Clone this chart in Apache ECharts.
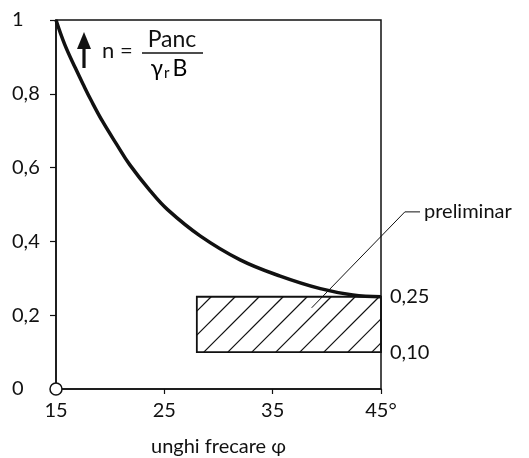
<!DOCTYPE html>
<html><head><meta charset="utf-8">
<script src="https://cdn.jsdelivr.net/npm/echarts@6/dist/echarts.min.js"></script>
<style>html,body{margin:0;padding:0;background:#fff}#c{width:529px;height:458px}</style>
</head><body><div id="c"></div>
<script>
// curve n(phi)
const phi   = [15, 15.8, 16.8, 17.5, 18.3, 19.3, 20.6, 21.8, 23.7, 25.3, 28.3, 32.0, 35.7, 39.4, 42.4, 45];
const nVals = [1.0, 0.934, 0.869, 0.826, 0.779, 0.725, 0.663, 0.608, 0.537, 0.486, 0.415, 0.350, 0.306, 0.272, 0.255, 0.25];
// axis ticks
const xTicks = [15, 25, 35, 45];
const yTicks = [0, 0.2, 0.4, 0.6, 0.8, 1];
// hatched "preliminar" zone
const prelimPhi = [28, 45];
const prelimN = [0.10, 0.25];
const prelimLabels = ['0,25', '0,10'];
// leader line to label
const leaderPhi = [38.6, 47.2, 48.6];
const leaderN = [0.22, 0.48, 0.48];
const leaderText = 'preliminar';
const xName = 'unghi frecare φ';

const FONT = 'Lato, "Open Sans", sans-serif';
const INK = '#111';
const FS = 20;

const chart = echarts.init(document.getElementById('c'), null, {renderer: 'canvas'});
chart.setOption({
  animation: false,
  backgroundColor: '#fff',
  grid: {left: 56, right: 148, top: 20, bottom: 69, outerBoundsMode: 'none', containLabel: false,
    show: true, borderColor: INK, borderWidth: 1.5, backgroundColor: 'transparent'},
  xAxis: {
    type: 'value', min: xTicks[0], max: xTicks[xTicks.length - 1], interval: 10,
    splitLine: {show: false},
    axisLine: {lineStyle: {color: INK, width: 1.5}},
    axisTick: {show: true, length: 5, lineStyle: {color: INK, width: 1.2}},
    axisLabel: {color: INK, fontFamily: FONT, fontSize: FS, margin: 12,
      formatter: v => v === xTicks[xTicks.length - 1] ? v + '°' : String(v)},
    name: xName, nameLocation: 'middle', nameGap: 48,
    nameTextStyle: {color: INK, fontFamily: FONT, fontSize: FS}
  },
  yAxis: {
    type: 'value', min: yTicks[0], max: yTicks[yTicks.length - 1], interval: 0.2,
    splitLine: {show: false},
    axisLine: {show: true, lineStyle: {color: INK, width: 1.5}},
    axisTick: {show: true, length: 6, lineStyle: {color: INK, width: 1.2}},
    axisLabel: {color: INK, fontFamily: FONT, fontSize: FS, margin: 44, align: 'left',
      formatter: v => (Math.abs(v) < 1e-9 ? '0' : Math.abs(v - 1) < 1e-9 ? '1' : v.toFixed(1).replace('.', ','))}
  },
  series: [
    {
      type: 'line', smooth: 0.4, symbol: 'none', clip: false,
      data: phi.map((p, i) => [p, nVals[i]]),
      lineStyle: {color: INK, width: 3.5}, z: 5
    },
    {
      type: 'custom', clip: false, z: 3,
      data: [[prelimPhi[0], prelimN[0], prelimPhi[1], prelimN[1]]],
      renderItem: (params, api) => {
        const p0 = api.coord([api.value(0), api.value(1)]);
        const p1 = api.coord([api.value(2), api.value(3)]);
        const x0 = p0[0], x1 = p1[0], yb = p0[1], yt = p1[1];
        const h = yb - yt, dx = h * 1.0, step = 24;
        const children = [];
        for (let s = x0 + 7 - step * 3; s < x1; s += step) {
          let ax = s, ay = yb, bx = s + dx, by = yt;
          if (bx <= x0) continue;
          if (ax < x0) { ay = yb - (x0 - s) / dx * h; ax = x0; }
          if (bx > x1) { by = yb - (x1 - s) / dx * h; bx = x1; }
          children.push({type: 'line', shape: {x1: ax, y1: ay, x2: bx, y2: by}, style: {stroke: INK, lineWidth: 1.2}});
        }
        children.push({type: 'rect', shape: {x: x0, y: yt, width: x1 - x0, height: h}, style: {fill: 'none', stroke: INK, lineWidth: 1.8}});
        children.push({type: 'text', style: {text: prelimLabels[0], x: x1 + 9, y: yt, verticalAlign: 'middle', fontFamily: FONT, fontSize: FS, fill: INK}});
        children.push({type: 'text', style: {text: prelimLabels[1], x: x1 + 9, y: yb, verticalAlign: 'middle', fontFamily: FONT, fontSize: FS, fill: INK}});
        return {type: 'group', children};
      }
    },
    {
      type: 'custom', clip: false, z: 4,
      data: [[leaderPhi[0], leaderN[0], leaderPhi[1], leaderN[1], leaderPhi[2], leaderN[2]]],
      renderItem: (params, api) => {
        const pts = [0, 1, 2].map(k => api.coord([api.value(2 * k), api.value(2 * k + 1)]));
        return {type: 'group', children: [
          {type: 'polyline', shape: {points: pts}, style: {stroke: INK, lineWidth: 1, fill: 'none'}},
          {type: 'text', style: {text: leaderText, x: pts[2][0] + 4, y: pts[2][1], verticalAlign: 'middle', fontFamily: FONT, fontSize: FS, fill: INK, letterSpacing: 0.8}}
        ]};
      }
    },
    {
      type: 'scatter', clip: false, z: 10,
      data: [[xTicks[0], yTicks[0]]],
      symbol: 'circle', symbolSize: 12,
      itemStyle: {color: '#ffffff', opacity: 1, borderColor: INK, borderWidth: 1.5}
    }
  ],
  graphic: [
    {type: 'line', shape: {x1: 84, y1: 68, x2: 84, y2: 44}, style: {stroke: INK, lineWidth: 3.2}},
    {type: 'polygon', shape: {points: [[84, 32], [77, 49], [91, 49]]}, style: {fill: INK}},
    {type: 'text', style: {text: 'n =', x: 102, y: 51, verticalAlign: 'middle', fontFamily: FONT, fontSize: 22, fill: INK}},
    {type: 'text', style: {text: 'Panc', x: 172, y: 40, align: 'center', verticalAlign: 'middle', fontFamily: FONT, fontSize: 23, fill: INK}},
    {type: 'line', shape: {x1: 142, y1: 53, x2: 203, y2: 53}, style: {stroke: INK, lineWidth: 1.4}},
    {type: 'text', style: {
      text: '{g|γ}{s|r}{g|B}', x: 169, y: 69, align: 'center', verticalAlign: 'middle',
      rich: {g: {fontFamily: FONT, fontSize: 23, color: INK}, s: {fontFamily: FONT, fontSize: 15, color: INK, padding: [8, 3, 0, 1]}}
    }}
  ]
});
</script></body></html>
